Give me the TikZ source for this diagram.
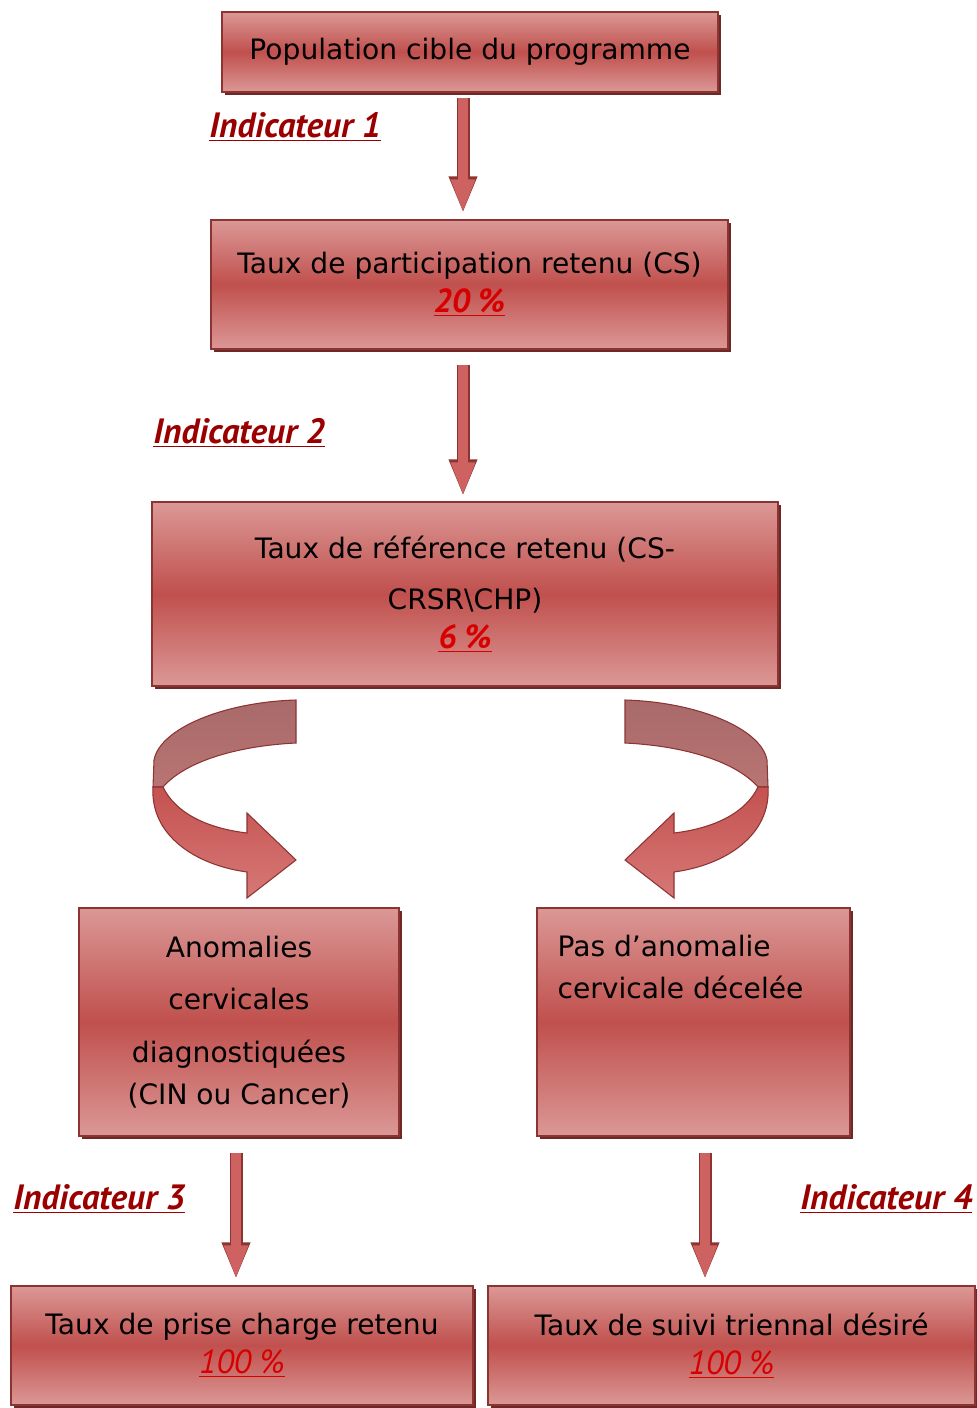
\documentclass[tikz,border=0pt]{standalone}
\usepackage{fontspec}
\setmainfont{DejaVu Sans}
\newfontfamily\labelfont{PT Sans}
\usetikzlibrary{arrows.meta,shadows}

\definecolor{boxtop}{RGB}{219,152,150}
\definecolor{boxmid}{RGB}{192,80,77}
\definecolor{boxline}{RGB}{140,52,50}
\definecolor{boxshadow}{RGB}{110,40,38}
\definecolor{indred}{RGB}{155,0,0}
\definecolor{pctred}{RGB}{215,0,0}
\definecolor{ribtop}{RGB}{168,106,106}
\definecolor{ribmid}{RGB}{184,116,114}
\definecolor{ribred}{RGB}{196,82,80}
\definecolor{riblow}{RGB}{214,120,118}
\definecolor{arrowred}{RGB}{205,98,96}

\newdimen\pxu \pxu=0.02cm

\newcommand{\indic}[1]{{\labelfont\bfseries\itshape\color{indred}\underline{#1}}}
\newcommand{\pct}[1]{{\labelfont\fontsize{19}{20}\selectfont\bfseries\itshape\color{pctred}\underline{#1}}}
\newcommand{\pctlight}[1]{{\labelfont\fontsize{19}{20}\selectfont\itshape\color{pctred}\underline{#1}}}

% curved ribbon arrow, drawn for the left side
\newcommand{\ribbon}{%
  \draw[boxline, line width=0.6pt, top color=ribtop, bottom color=ribmid]
    (296,700) .. controls (225,702) and (160,728) .. (154,760)
    -- (153,787) -- (163,787) .. controls (185,762) and (235,746) .. (296,743) -- cycle;
  \draw[boxline, line width=0.6pt, top color=ribred, bottom color=riblow]
    (153,787) .. controls (150,835) and (195,865) .. (247,872)
    -- (247,898) -- (296,860) -- (247,813) -- (247,833)
    .. controls (205,828) and (175,812) .. (163,787) -- cycle;
}

\tikzset{
  flowbox/.style={draw=boxline, line width=0.8pt,
    top color=boxtop, bottom color=boxtop, middle color=boxmid,
    drop shadow={shadow xshift=1.5pt, shadow yshift=-1.5pt, fill=boxshadow, opacity=1},
    align=center, inner sep=0pt, font=\fontsize{16}{20}\selectfont},
  flowarrow/.style={line width=0.2cm, draw=arrowred,
    -{Triangle[width=0.44cm, length=0.68cm]},
    preaction={draw=boxline, line width=0.26cm,
      -{Triangle[width=0.52cm, length=0.74cm]}}},
  indlabel/.style={anchor=west, inner sep=0pt, font=\fontsize{20}{22}\selectfont}
}

\begin{document}
\begin{tikzpicture}[x=0.02cm, y=-0.02cm]
  \useasboundingbox (0,0) rectangle (976,1408);

  % boxes
  \node[flowbox, minimum width=496\pxu, minimum height=80\pxu] (pop) at (470,52)
    {Population cible du programme};
  \node[flowbox, minimum width=517\pxu, minimum height=129\pxu] (part) at (469.5,284.5)
    {Taux de participation retenu (CS)\\[2pt] \pct{20~\%}};
  \node[flowbox, minimum width=626\pxu, minimum height=184\pxu] (ref) at (465,594)
    {Taux de référence retenu (CS-\\[9pt] CRSR\textbackslash CHP)\\[2pt] \pct{6~\%}};
  \node[flowbox, minimum width=320\pxu, minimum height=228\pxu] (anom) at (239,1022)
    {Anomalies\\[10pt] cervicales\\[10pt] diagnostiquées\\[4pt] (CIN ou Cancer)};
  \node[flowbox, minimum width=313\pxu, minimum height=228\pxu,
    label={[anchor=north west, align=left, inner sep=0pt, xshift=0.42cm, yshift=-0.54cm,
      font=\fontsize{16}{20}\selectfont]north west:{Pas d’anomalie\\[4pt] cervicale décelée}}]
    (pas) at (693.5,1022) {};
  \node[flowbox, minimum width=462\pxu, minimum height=119\pxu] (prise) at (242,1345.5)
    {Taux de prise charge retenu\\[2pt] \pctlight{100~\%}};
  \node[flowbox, minimum width=487\pxu, minimum height=119\pxu] (suivi) at (731.5,1345.5)
    {Taux de suivi triennal désiré\\[2pt] \pctlight{100~\%}};

  % straight arrows
  \draw[flowarrow, shorten <=0.1cm, shorten >=0.12cm]
    ([xshift=-0.14cm]pop.south) -- ([xshift=-0.14cm]pop.south |- part.north);
  \draw[flowarrow, shorten <=0.3cm, shorten >=0.1cm]
    ([xshift=-0.13cm]part.south) -- ([xshift=-0.13cm]part.south |- ref.north);
  \draw[flowarrow, shorten <=0.32cm, shorten >=0.12cm]
    ([xshift=-0.06cm]anom.south) -- ([xshift=-0.06cm]anom.south |- prise.north);
  \draw[flowarrow, shorten <=0.32cm, shorten >=0.12cm]
    ([xshift=0.23cm]pas.south) -- ([xshift=0.23cm]pas.south |- suivi.north);

  % indicator labels
  \node[indlabel] (ind1) at (209,127) {\indic{Indicateur 1}};
  \node[indlabel] (ind2) at (153,433) {\indic{Indicateur 2}};
  \node[indlabel] (ind3) at (13,1199) {\indic{Indicateur 3}};
  \node[indlabel] (ind4) at (800,1199) {\indic{Indicateur 4}};

  % curved arrows
  \ribbon
  \begin{scope}[shift={(921,0)}, xscale=-1]
    \ribbon
  \end{scope}
\end{tikzpicture}
\end{document}
